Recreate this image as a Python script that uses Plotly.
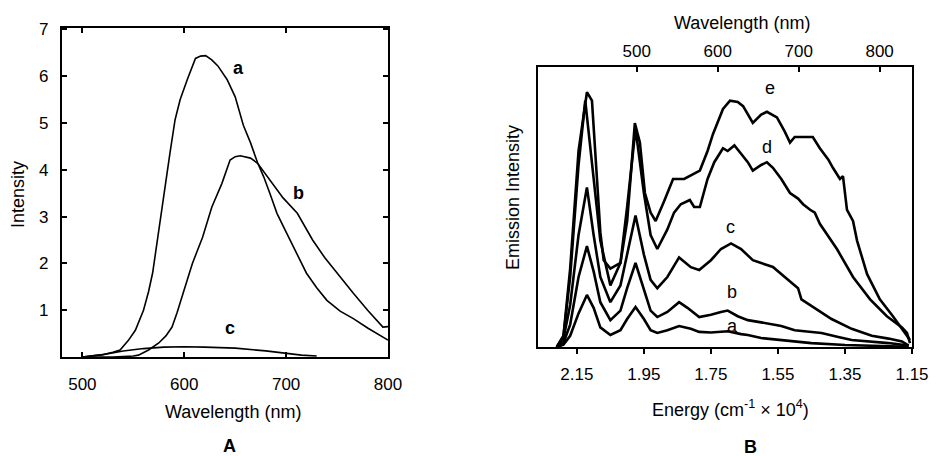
import plotly.graph_objects as go

# ---------------- Panel A data (wavelength nm, intensity) ----------------
a_wl = [500, 510, 520, 530, 537, 545, 552, 560, 565, 569, 575, 581, 586, 591, 596, 603, 611, 616, 621,
        627, 633, 642, 650, 658, 665, 672, 678, 684, 691, 697, 704, 712, 720, 730, 740, 753, 766, 780, 795, 800]
a_int = [0.0, 0.02, 0.05, 0.1, 0.15, 0.35, 0.57, 1.0, 1.4, 1.8, 2.7, 3.7, 4.36, 5.07, 5.5, 5.93, 6.38, 6.43, 6.44,
         6.35, 6.22, 5.93, 5.56, 4.95, 4.58, 4.15, 3.85, 3.5, 3.07, 2.8, 2.5, 2.15, 1.79, 1.48, 1.21, 0.98, 0.82, 0.62, 0.43, 0.36]

b_wl = [500, 530, 550, 555, 565, 575, 582, 588, 593, 598, 603, 608, 618, 627, 637, 645, 650, 655, 660,
        665, 672, 684, 697, 711, 726, 738, 750, 766, 780, 795, 800]
b_int = [0.0, 0.0, 0.02, 0.04, 0.15, 0.3, 0.45, 0.64, 0.95, 1.28, 1.65, 2.0, 2.56, 3.2, 3.71, 4.21, 4.28, 4.3, 4.28,
         4.25, 4.14, 3.78, 3.4, 3.07, 2.5, 2.12, 1.79, 1.36, 1.0, 0.64, 0.65]

c_wl = [500, 520, 540, 560, 580, 600, 620, 650, 680, 700, 715, 730]
c_int = [0.0, 0.05, 0.13, 0.18, 0.21, 0.22, 0.21, 0.19, 0.13, 0.08, 0.04, 0.02]

# ---------------- Panel B data (energy cm-1 x 1e4, emission intensity a.u.) ----------------
ea = [2.21, 2.19, 2.17, 2.145, 2.12, 2.10, 2.08, 2.05, 2.02, 2.00, 1.975, 1.95, 1.93, 1.91, 1.88, 1.845, 1.81,
      1.785, 1.75, 1.70, 1.66, 1.64, 1.60, 1.54, 1.45, 1.35, 1.25, 1.16]
ia = [0, 0.8, 4, 12, 18.6, 14, 7, 4.3, 6, 10, 14.3, 10, 6, 5, 6, 7.5, 6.5,
      5.4, 5.2, 5.6, 4.6, 4.3, 3.2, 2.5, 1.4, 0.7, 0.3, 0.1]

eb = [2.21, 2.19, 2.17, 2.145, 2.12, 2.10, 2.08, 2.05, 2.02, 2.00, 1.975, 1.95, 1.93, 1.91, 1.88, 1.845, 1.82,
      1.785, 1.75, 1.72, 1.70, 1.67, 1.64, 1.60, 1.54, 1.50, 1.42, 1.37, 1.33, 1.22, 1.16]
ib = [0, 1.5, 8, 25, 36, 27, 16, 9.6, 13, 21, 30, 21, 13, 10.7, 12.5, 16, 14,
      10.7, 11.5, 12.5, 13, 11, 9.6, 8.8, 7.5, 6, 5, 3.6, 2.5, 1.4, 0.5]

ec = [2.21, 2.19, 2.17, 2.145, 2.12, 2.10, 2.08, 2.05, 2.02, 2.00, 1.975, 1.95, 1.93, 1.91, 1.88, 1.845, 1.81,
      1.785, 1.75, 1.72, 1.69, 1.66, 1.625, 1.60, 1.565, 1.52, 1.49, 1.48, 1.43, 1.39, 1.33, 1.27, 1.22, 1.18, 1.16]
ic = [0, 3, 15, 40, 57, 40, 25, 16, 22, 33, 47, 33, 24, 21, 25, 32, 28.5,
      27.5, 31, 35, 37, 35, 31, 30, 28.6, 24, 21, 17, 13, 10, 6.5, 4, 3, 2, 0.5]

ed = [2.21, 2.19, 2.17, 2.145, 2.125, 2.10, 2.08, 2.05, 2.02, 2.00, 1.975, 1.95, 1.93, 1.91, 1.88, 1.86, 1.84,
      1.813, 1.80, 1.783, 1.76, 1.74, 1.714, 1.70, 1.68, 1.66, 1.64, 1.625, 1.60, 1.583, 1.565, 1.54, 1.514,
      1.49, 1.475, 1.454, 1.44, 1.425, 1.374, 1.326, 1.275, 1.225, 1.18, 1.165, 1.156]
id_ = [0, 4, 25, 65, 88, 60, 38, 22, 30, 50, 78, 55, 40, 35, 42, 48, 51,
       52.5, 50, 50, 60, 66, 71, 70, 72, 69, 66, 63, 65, 66, 64, 60, 55,
       53, 51, 49, 48, 44, 35, 25, 17, 11, 7, 5, 1.4]

ee = [2.21, 2.19, 2.17, 2.145, 2.12, 2.105, 2.09, 2.08, 2.07, 2.05, 2.02, 2.00, 1.99, 1.977, 1.962, 1.947, 1.93,
      1.915, 1.89, 1.863, 1.83, 1.813, 1.783, 1.76, 1.744, 1.714, 1.693, 1.67, 1.654, 1.625, 1.60, 1.583, 1.553,
      1.53, 1.514, 1.50, 1.47, 1.446, 1.425, 1.40, 1.386, 1.365, 1.356, 1.344, 1.326, 1.314, 1.284, 1.246,
      1.207, 1.177, 1.156]
ie = [0, 4, 28, 70, 91, 88, 60, 41, 31, 28, 30, 45, 60, 80, 73, 55, 48,
      45, 52, 60, 60, 61, 63, 70, 76, 85, 88, 87.5, 86, 80, 83, 84, 82,
      77, 73, 75, 75, 75, 71, 67, 64, 60, 61, 49, 45, 38, 26, 17,
      11, 6, 2.5]

top_wl_ticks = [500, 600, 700, 800]
energy_ticks = [2.15, 1.95, 1.75, 1.55, 1.35, 1.15]
intensity_ticks = [1, 2, 3, 4, 5, 6, 7]
wl_ticks = [500, 600, 700, 800]

FONT = "Liberation Sans, Arial, Helvetica, sans-serif"
W, H = 936, 456

fig = go.Figure()
lineA = dict(color="black", width=1.6)
lineB = dict(color="black", width=2.6)

for xs, ys in [(a_wl, a_int), (b_wl, b_int), (c_wl, c_int)]:
    fig.add_trace(go.Scatter(x=xs, y=ys, mode="lines", line=lineA, xaxis="x", yaxis="y",
                             showlegend=False, hoverinfo="skip"))
for xs, ys in [(ea, ia), (eb, ib), (ec, ic), (ed, id_), (ee, ie)]:
    fig.add_trace(go.Scatter(x=xs, y=ys, mode="lines", line=lineB, xaxis="x2", yaxis="y2",
                             showlegend=False, hoverinfo="skip"))
# anchor trace for the top wavelength axis
fig.add_trace(go.Scatter(x=top_wl_ticks, y=[None] * len(top_wl_ticks), mode="lines", xaxis="x3", yaxis="y2",
                         showlegend=False, hoverinfo="skip"))

def px(xpix):
    return xpix / W

def py(ypix):
    return 1 - ypix / H

tickfont = dict(family=FONT, size=17, color="black")

fig.update_layout(
    template="none",
    width=W, height=H, autosize=False, margin=dict(l=0, r=0, t=0, b=0, pad=0),
    paper_bgcolor="white", plot_bgcolor="white",
    font=dict(family=FONT, size=17, color="black"),
    xaxis=dict(domain=[px(62), px(388)], range=[480, 800], anchor="y", automargin=False,
               showline=True, linecolor="black", linewidth=2.2, mirror="ticks",
               ticks="inside", ticklen=5, tickwidth=1.5, tickcolor="black",
               tickvals=wl_ticks, tickfont=tickfont, ticklabelstandoff=10,
               showgrid=False, zeroline=False),
    yaxis=dict(domain=[py(357), py(28)], range=[0, 7.03], anchor="x", automargin=False,
               showline=True, linecolor="black", linewidth=2.2, mirror="ticks",
               ticks="inside", ticklen=5, tickwidth=1.5, tickcolor="black",
               tickvals=intensity_ticks, tickfont=tickfont, ticklabelstandoff=8,
               showgrid=False, zeroline=False),
    xaxis2=dict(domain=[px(538), px(912)], range=[2.266, 1.15], anchor="y2", automargin=False,
                showline=True, linecolor="black", linewidth=1.6, mirror=True,
                ticks="outside", ticklen=5, tickwidth=1.5, tickcolor="black",
                tickvals=energy_ticks, ticktext=[f"{v:.2f}" for v in energy_ticks],
                tickfont=tickfont, ticklabelstandoff=6,
                showgrid=False, zeroline=False),
    xaxis3=dict(overlaying="x2", side="top", anchor="y2", range=[378, 840], automargin=False,
                ticks="inside", ticklen=5, tickwidth=1.5, tickcolor="black",
                tickvals=top_wl_ticks, tickfont=tickfont, ticklabelstandoff=6,
                showline=False, showgrid=False, zeroline=False),
    yaxis2=dict(domain=[py(347), py(67)], range=[0, 100], anchor="x2", automargin=False,
                showline=True, linecolor="black", linewidth=1.6, mirror=True,
                ticks="", showticklabels=False, showgrid=False, zeroline=False),
)

ann = []
def text(x, y, s, size=18, bold=False, angle=0, xref="paper", yref="paper"):
    ann.append(dict(x=x, y=y, xref=xref, yref=yref, text=(f"<b>{s}</b>" if bold else s),
                    showarrow=False, textangle=angle,
                    font=dict(family=FONT, size=size, color="black"),
                    xanchor="center", yanchor="middle"))

# axis titles
text(px(233), py(412), "Wavelength (nm)")
text(px(18), py(195), "Intensity", angle=-90)
text(px(742), py(23), "Wavelength (nm)")
text(px(730), py(408), "Energy (cm<sup>-1</sup> × 10<sup>4</sup>)")
text(px(513), py(198), "Emission Intensity", angle=-90)
# panel letters
text(px(229), py(446), "A", bold=True)
text(px(750), py(447), "B", bold=True)
# curve labels panel A
text(653, 6.18, "a", bold=True, xref="x", yref="y")
text(712, 3.5, "b", bold=True, xref="x", yref="y")
text(645, 0.62, "c", bold=True, xref="x", yref="y")
# curve labels panel B
text(1.574, 92.5, "e", xref="x2", yref="y2")
text(1.583, 71.4, "d", xref="x2", yref="y2")
text(1.693, 43, "c", xref="x2", yref="y2")
text(1.687, 19.6, "b", xref="x2", yref="y2")
text(1.687, 7.5, "a", xref="x2", yref="y2")

fig.update_layout(annotations=ann)
fig.write_html(
    "out.html",
    config={"displayModeBar": False, "responsive": False},
    post_script="document.body.style.margin='0';document.body.style.padding='0';"
                "document.documentElement.style.overflow='hidden';",
)
